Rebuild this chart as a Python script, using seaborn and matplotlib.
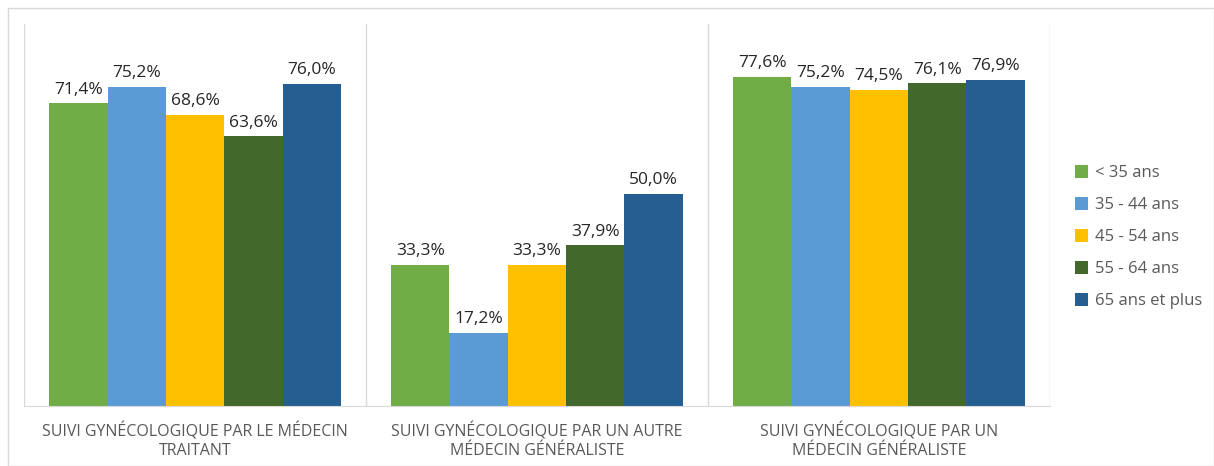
import pandas as pd
import seaborn as sns
import matplotlib.pyplot as plt
from matplotlib.patches import Rectangle

groupes = ['SUIVI GYNÉCOLOGIQUE PAR LE MÉDECIN\nTRAITANT',
           'SUIVI GYNÉCOLOGIQUE PAR UN AUTRE\nMÉDECIN GÉNÉRALISTE',
           'SUIVI GYNÉCOLOGIQUE PAR UN\nMÉDECIN GÉNÉRALISTE']
ages = ['< 35 ans', '35 - 44 ans', '45 - 54 ans', '55 - 64 ans', '65 ans et plus']
moins_35 = [71.4, 33.3, 77.6]
de_35_44 = [75.2, 17.2, 75.2]
de_45_54 = [68.6, 33.3, 74.5]
de_55_64 = [63.6, 37.9, 76.1]
plus_65 = [76.0, 50.0, 76.9]
couleurs = ['#70AD47', '#5B9BD5', '#FFC000', '#43682B', '#255E91']

series = [moins_35, de_35_44, de_45_54, de_55_64, plus_65]
lignes = []
for age, valeurs in zip(ages, series):
    for g, v in zip(groupes, valeurs):
        lignes.append({'Groupe': g, 'Age': age, 'Valeur': v})
df = pd.DataFrame(lignes)

sns.set_style('white')
plt.rcParams['font.family'] = ['Open Sans', 'DejaVu Sans']

fig = plt.figure(figsize=(12.14, 4.66), dpi=100)
ax = fig.add_axes([0.0198, 0.129, 0.845, 0.819])

sns.barplot(data=df, x='Groupe', y='Valeur', hue='Age', hue_order=ages,
            palette=couleurs, width=0.853, saturation=1, ax=ax, errorbar=None,
            linewidth=0)

for cont in ax.containers:
    ax.bar_label(cont, labels=[f'{b.get_height():.1f}%'.replace('.', ',') for b in cont],
                 padding=4, fontsize=12.5, color='#262626')

ax.set_ylim(0, 90)
ax.set_xlim(-0.5, 2.5)
ax.set_yticks([])
ax.set_xlabel('')
ax.set_ylabel('')
for x in [-0.5, 0.5, 1.5, 2.5]:
    ax.axvline(x, color='#D9D9D9', lw=1, zorder=0)
for s in ['top', 'left', 'right']:
    ax.spines[s].set_visible(False)
ax.spines['bottom'].set_color('#D9D9D9')
ax.tick_params(axis='x', length=0, pad=12, labelsize=11.5, labelcolor='#595959')

leg = ax.legend(loc='center left', bbox_to_anchor=(1.01, 0.442), frameon=False,
                fontsize=12, handlelength=0.8, handleheight=0.8,
                labelspacing=0.95, handletextpad=0.4, labelcolor='#595959')

fig.patches.append(Rectangle((8 / 1214, 0), 1 - 8 / 1214, 1 - 8 / 466,
                             transform=fig.transFigure, fill=False,
                             edgecolor='#D9D9D9', lw=1))

fig.savefig('out.png', dpi=100)
